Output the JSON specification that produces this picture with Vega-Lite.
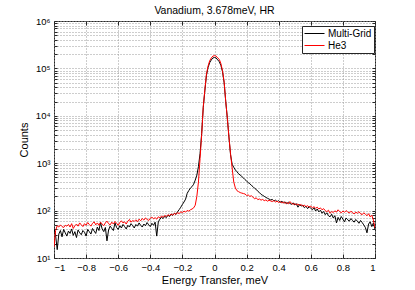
{
"$schema":"https://vega.github.io/schema/vega-lite/v6.json",
"width":321,"height":237,
"autosize":{"type":"none"},
"padding":{"left":54,"top":21,"right":40,"bottom":32},
"background":"white",
"config":{"font":"Liberation Sans","view":{"stroke":"#262626","strokeWidth":1}},
"title":{"text":"Vanadium, 3.678meV, HR","fontSize":10.5,"fontWeight":"normal","color":"black","offset":0},
"data":{"values":[
{"x":-1,"Multi-Grid":42,"He3":17},{"x":-0.99,"Multi-Grid":30,"He3":38},{"x":-0.98,"Multi-Grid":15,"He3":48},{"x":-0.97,"Multi-Grid":32,"He3":45},{"x":-0.96,"Multi-Grid":38,"He3":50},{"x":-0.95,"Multi-Grid":28,"He3":46},{"x":-0.94,"Multi-Grid":40,"He3":44},{"x":-0.93,"Multi-Grid":34,"He3":49},{"x":-0.92,"Multi-Grid":29,"He3":47},{"x":-0.91,"Multi-Grid":37,"He3":51},
{"x":-0.9,"Multi-Grid":33,"He3":45},{"x":-0.89,"Multi-Grid":41,"He3":53},{"x":-0.88,"Multi-Grid":30,"He3":42},{"x":-0.87,"Multi-Grid":36,"He3":48},{"x":-0.86,"Multi-Grid":27,"He3":52},{"x":-0.85,"Multi-Grid":39,"He3":47},{"x":-0.84,"Multi-Grid":34,"He3":55},{"x":-0.83,"Multi-Grid":31,"He3":50},{"x":-0.82,"Multi-Grid":38,"He3":46},{"x":-0.81,"Multi-Grid":35,"He3":53},
{"x":-0.8,"Multi-Grid":29,"He3":49},{"x":-0.79,"Multi-Grid":40,"He3":56},{"x":-0.78,"Multi-Grid":36,"He3":51},{"x":-0.77,"Multi-Grid":32,"He3":47},{"x":-0.76,"Multi-Grid":42,"He3":54},{"x":-0.75,"Multi-Grid":37,"He3":58},{"x":-0.74,"Multi-Grid":33,"He3":50},{"x":-0.73,"Multi-Grid":45,"He3":55},{"x":-0.72,"Multi-Grid":38,"He3":49},{"x":-0.71,"Multi-Grid":56,"He3":57},
{"x":-0.7,"Multi-Grid":41,"He3":52},{"x":-0.69,"Multi-Grid":36,"He3":48},{"x":-0.68,"Multi-Grid":44,"He3":55},{"x":-0.67,"Multi-Grid":23,"He3":60},{"x":-0.66,"Multi-Grid":39,"He3":53},{"x":-0.65,"Multi-Grid":47,"He3":50},{"x":-0.64,"Multi-Grid":42,"He3":57},{"x":-0.63,"Multi-Grid":38,"He3":52},{"x":-0.62,"Multi-Grid":55,"He3":59},{"x":-0.61,"Multi-Grid":44,"He3":54},
{"x":-0.6,"Multi-Grid":40,"He3":49},{"x":-0.59,"Multi-Grid":48,"He3":56},{"x":-0.58,"Multi-Grid":43,"He3":61},{"x":-0.57,"Multi-Grid":51,"He3":55},{"x":-0.56,"Multi-Grid":46,"He3":58},{"x":-0.55,"Multi-Grid":41,"He3":52},{"x":-0.54,"Multi-Grid":49,"He3":60},{"x":-0.53,"Multi-Grid":45,"He3":65},{"x":-0.52,"Multi-Grid":53,"He3":57},{"x":-0.51,"Multi-Grid":48,"He3":62},
{"x":-0.5,"Multi-Grid":43,"He3":59},{"x":-0.49,"Multi-Grid":51,"He3":64},{"x":-0.48,"Multi-Grid":47,"He3":58},{"x":-0.47,"Multi-Grid":55,"He3":66},{"x":-0.46,"Multi-Grid":49,"He3":61},{"x":-0.45,"Multi-Grid":45,"He3":68},{"x":-0.44,"Multi-Grid":52,"He3":63},{"x":-0.43,"Multi-Grid":48,"He3":70},{"x":-0.42,"Multi-Grid":56,"He3":65},{"x":-0.41,"Multi-Grid":50,"He3":62},
{"x":-0.4,"Multi-Grid":46,"He3":69},{"x":-0.39,"Multi-Grid":54,"He3":73},{"x":-0.38,"Multi-Grid":49,"He3":67},{"x":-0.37,"Multi-Grid":57,"He3":71},{"x":-0.36,"Multi-Grid":29,"He3":66},{"x":-0.35,"Multi-Grid":58,"He3":74},{"x":-0.34,"Multi-Grid":66,"He3":70},{"x":-0.33,"Multi-Grid":72,"He3":77},{"x":-0.32,"Multi-Grid":68,"He3":72},{"x":-0.31,"Multi-Grid":76,"He3":79},
{"x":-0.3,"Multi-Grid":71,"He3":75},{"x":-0.29,"Multi-Grid":80,"He3":82},{"x":-0.28,"Multi-Grid":75,"He3":78},{"x":-0.27,"Multi-Grid":84,"He3":85},{"x":-0.26,"Multi-Grid":79,"He3":80},{"x":-0.25,"Multi-Grid":88,"He3":88},{"x":-0.24,"Multi-Grid":83,"He3":83},{"x":-0.23,"Multi-Grid":95,"He3":91},{"x":-0.22,"Multi-Grid":105,"He3":86},{"x":-0.21,"Multi-Grid":118,"He3":95},
{"x":-0.2,"Multi-Grid":135,"He3":90},{"x":-0.19,"Multi-Grid":152,"He3":98},{"x":-0.18,"Multi-Grid":175,"He3":93},{"x":-0.17,"Multi-Grid":232,"He3":101},{"x":-0.16,"Multi-Grid":265,"He3":97},{"x":-0.15,"Multi-Grid":300,"He3":104},{"x":-0.14,"Multi-Grid":320,"He3":108},{"x":-0.13,"Multi-Grid":360,"He3":114},{"x":-0.12,"Multi-Grid":440,"He3":130},{"x":-0.11,"Multi-Grid":560,"He3":200},
{"x":-0.1,"Multi-Grid":850,"He3":400},{"x":-0.09,"Multi-Grid":1600,"He3":1250},{"x":-0.08,"Multi-Grid":4200,"He3":4000},{"x":-0.07,"Multi-Grid":15000,"He3":15500},{"x":-0.06,"Multi-Grid":34000,"He3":35500},{"x":-0.05,"Multi-Grid":72000,"He3":76000},{"x":-0.04,"Multi-Grid":105000,"He3":112000},{"x":-0.03,"Multi-Grid":132000,"He3":145000},{"x":-0.02,"Multi-Grid":151000,"He3":166000},{"x":-0.01,"Multi-Grid":166000,"He3":182000},
{"x":0,"Multi-Grid":170000,"He3":186000},{"x":0.01,"Multi-Grid":166000,"He3":182000},{"x":0.02,"Multi-Grid":151000,"He3":166000},{"x":0.03,"Multi-Grid":138000,"He3":155000},{"x":0.04,"Multi-Grid":115000,"He3":126000},{"x":0.05,"Multi-Grid":85000,"He3":89000},{"x":0.06,"Multi-Grid":50000,"He3":52000},{"x":0.07,"Multi-Grid":20000,"He3":20000},{"x":0.08,"Multi-Grid":8900,"He3":8900},{"x":0.09,"Multi-Grid":3550,"He3":3550},
{"x":0.1,"Multi-Grid":1500,"He3":1580},{"x":0.11,"Multi-Grid":950,"He3":790},{"x":0.12,"Multi-Grid":820,"He3":400},{"x":0.13,"Multi-Grid":720,"He3":300},{"x":0.14,"Multi-Grid":660,"He3":263},{"x":0.15,"Multi-Grid":600,"He3":251},{"x":0.16,"Multi-Grid":560,"He3":240},{"x":0.17,"Multi-Grid":525,"He3":234},{"x":0.18,"Multi-Grid":490,"He3":229},{"x":0.19,"Multi-Grid":450,"He3":224},
{"x":0.2,"Multi-Grid":420,"He3":209},{"x":0.21,"Multi-Grid":390,"He3":214},{"x":0.22,"Multi-Grid":370,"He3":200},{"x":0.23,"Multi-Grid":340,"He3":205},{"x":0.24,"Multi-Grid":320,"He3":191},{"x":0.25,"Multi-Grid":295,"He3":178},{"x":0.26,"Multi-Grid":280,"He3":186},{"x":0.27,"Multi-Grid":255,"He3":170},{"x":0.28,"Multi-Grid":240,"He3":176},{"x":0.29,"Multi-Grid":220,"He3":166},
{"x":0.3,"Multi-Grid":210,"He3":172},{"x":0.31,"Multi-Grid":200,"He3":162},{"x":0.32,"Multi-Grid":190,"He3":168},{"x":0.33,"Multi-Grid":182,"He3":158},{"x":0.34,"Multi-Grid":175,"He3":165},{"x":0.35,"Multi-Grid":168,"He3":160},{"x":0.36,"Multi-Grid":172,"He3":155},{"x":0.37,"Multi-Grid":160,"He3":163},{"x":0.38,"Multi-Grid":166,"He3":152},{"x":0.39,"Multi-Grid":155,"He3":158},
{"x":0.4,"Multi-Grid":162,"He3":148},{"x":0.41,"Multi-Grid":150,"He3":155},{"x":0.42,"Multi-Grid":157,"He3":145},{"x":0.43,"Multi-Grid":146,"He3":151},{"x":0.44,"Multi-Grid":153,"He3":142},{"x":0.45,"Multi-Grid":140,"He3":148},{"x":0.46,"Multi-Grid":150,"He3":139},{"x":0.47,"Multi-Grid":142,"He3":155},{"x":0.48,"Multi-Grid":135,"He3":142},{"x":0.49,"Multi-Grid":146,"He3":136},
{"x":0.5,"Multi-Grid":132,"He3":140},{"x":0.51,"Multi-Grid":140,"He3":132},{"x":0.52,"Multi-Grid":118,"He3":138},{"x":0.53,"Multi-Grid":134,"He3":128},{"x":0.54,"Multi-Grid":125,"He3":135},{"x":0.55,"Multi-Grid":130,"He3":124},{"x":0.56,"Multi-Grid":115,"He3":131},{"x":0.57,"Multi-Grid":124,"He3":121},{"x":0.58,"Multi-Grid":110,"He3":127},{"x":0.59,"Multi-Grid":121,"He3":118},
{"x":0.6,"Multi-Grid":112,"He3":124},{"x":0.61,"Multi-Grid":104,"He3":115},{"x":0.62,"Multi-Grid":115,"He3":121},{"x":0.63,"Multi-Grid":98,"He3":112},{"x":0.64,"Multi-Grid":108,"He3":118},{"x":0.65,"Multi-Grid":94,"He3":108},{"x":0.66,"Multi-Grid":102,"He3":114},{"x":0.67,"Multi-Grid":88,"He3":104},{"x":0.68,"Multi-Grid":96,"He3":110},{"x":0.69,"Multi-Grid":82,"He3":100},
{"x":0.7,"Multi-Grid":90,"He3":95},{"x":0.71,"Multi-Grid":78,"He3":102},{"x":0.72,"Multi-Grid":74,"He3":88},{"x":0.73,"Multi-Grid":84,"He3":96},{"x":0.74,"Multi-Grid":70,"He3":91},{"x":0.75,"Multi-Grid":78,"He3":99},{"x":0.76,"Multi-Grid":55,"He3":93},{"x":0.77,"Multi-Grid":72,"He3":104},{"x":0.78,"Multi-Grid":62,"He3":95},{"x":0.79,"Multi-Grid":75,"He3":90},
{"x":0.8,"Multi-Grid":66,"He3":98},{"x":0.81,"Multi-Grid":58,"He3":92},{"x":0.82,"Multi-Grid":70,"He3":100},{"x":0.83,"Multi-Grid":64,"He3":94},{"x":0.84,"Multi-Grid":60,"He3":89},{"x":0.85,"Multi-Grid":68,"He3":97},{"x":0.86,"Multi-Grid":62,"He3":91},{"x":0.87,"Multi-Grid":57,"He3":85},{"x":0.88,"Multi-Grid":65,"He3":93},{"x":0.89,"Multi-Grid":60,"He3":88},
{"x":0.9,"Multi-Grid":54,"He3":95},{"x":0.91,"Multi-Grid":62,"He3":86},{"x":0.92,"Multi-Grid":56,"He3":82},{"x":0.93,"Multi-Grid":50,"He3":90},{"x":0.94,"Multi-Grid":44,"He3":84},{"x":0.95,"Multi-Grid":34,"He3":78},{"x":0.96,"Multi-Grid":52,"He3":86},{"x":0.97,"Multi-Grid":58,"He3":74},{"x":0.98,"Multi-Grid":46,"He3":80},{"x":0.99,"Multi-Grid":55,"He3":63},
{"x":1,"Multi-Grid":40,"He3":43}
]},
"transform":[{"fold":["Multi-Grid","He3"],"as":["series","count"]}],
"resolve":{"axis":{"x":"independent","y":"independent"}},
"layer":[
{"mark":{"type":"line","strokeWidth":1,"clip":true},
"encoding":{
"x":{"field":"x","type":"quantitative","scale":{"domain":[-1,1],"nice":false,"zero":false},
"axis":{"orient":"bottom","values":[-1,-0.8,-0.6,-0.4,-0.2,0,0.2,0.4,0.6,0.8,1],"format":"~g","title":"Energy Transfer, meV","grid":true,"gridDash":[1,2],"gridColor":"#9a9a9a","gridWidth":1,"domain":false,"tickSize":-4,"tickColor":"#262626","labelFontSize":9.5,"labelColor":"black","labelPadding":8,"titleFontSize":11,"titleFontWeight":"normal","titleColor":"black","titlePadding":3}},
"y":{"field":"count","type":"quantitative","scale":{"type":"log","domain":[10,1000000],"nice":false},
"axis":{"orient":"left","values":[10,20,30,40,50,60,70,80,90,100,200,300,400,500,600,700,800,900,1000,2000,3000,4000,5000,6000,7000,8000,9000,10000,20000,30000,40000,50000,60000,70000,80000,90000,100000,200000,300000,400000,500000,600000,700000,800000,900000,1000000],
"labelExpr":"indexof([10,100,1000,10000,100000,1000000], datum.value) >= 0 ? '10' + ['¹','²','³','⁴','⁵','⁶'][indexof([10,100,1000,10000,100000,1000000], datum.value)] : ''",
"title":"Counts","grid":true,"gridDash":[1,2],"gridColor":"#9a9a9a","gridWidth":1,"domain":false,"tickSize":-3,"tickColor":"#262626","labelFontSize":9.5,"labelColor":"black","labelPadding":7,"labelOverlap":false,"titleFontSize":11,"titleFontWeight":"normal","titleColor":"black","titlePadding":6}},
"color":{"field":"series","type":"nominal","scale":{"domain":["Multi-Grid","He3"],"range":["#000000","#ff0000"]},
"legend":{"title":null,"orient":"none","legendX":248,"legendY":5,"fillColor":"white","strokeColor":"#262626","padding":2,"rowPadding":1,"symbolType":"M-2,0H2","symbolSize":100,"symbolOffset":5,"symbolStrokeWidth":1,"labelFontSize":10,"labelColor":"black","labelOffset":8,"labelLimit":200}}
}},
{"mark":{"type":"point","opacity":0},
"encoding":{
"x":{"field":"x","type":"quantitative","axis":{"orient":"top","values":[-1,-0.8,-0.6,-0.4,-0.2,0,0.2,0.4,0.6,0.8,1],"labels":false,"title":null,"grid":false,"domain":false,"tickSize":-4,"tickColor":"#262626"}},
"y":{"field":"count","type":"quantitative","axis":{"orient":"right","values":[10,20,30,40,50,60,70,80,90,100,200,300,400,500,600,700,800,900,1000,2000,3000,4000,5000,6000,7000,8000,9000,10000,20000,30000,40000,50000,60000,70000,80000,90000,100000,200000,300000,400000,500000,600000,700000,800000,900000,1000000],"labels":false,"title":null,"grid":false,"domain":false,"tickSize":-3,"tickColor":"#262626"}}
}}
]
}
